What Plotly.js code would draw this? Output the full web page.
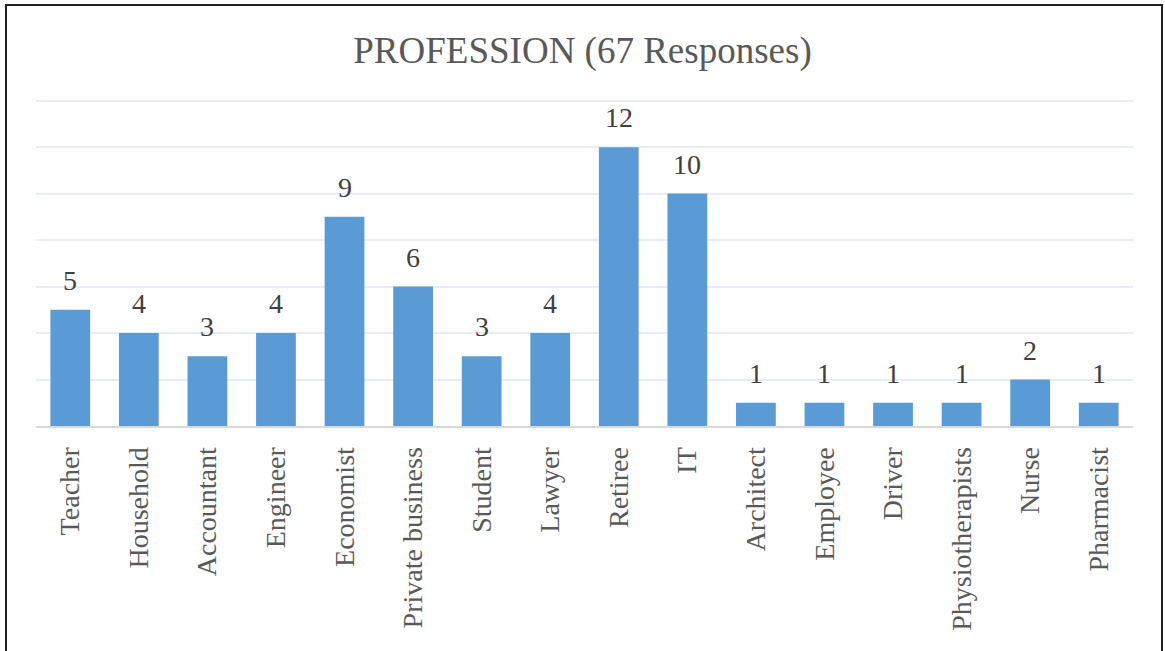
<!DOCTYPE html>
<html>
<head>
<meta charset="utf-8">
<script src="https://cdn.plot.ly/plotly-3.0.1.min.js"></script>
<style>
  html, body { margin: 0; padding: 0; background: #fff; }
  #chart { width: 1165px; height: 651px; }
  #frame {
    position: absolute; left: 5px; top: 4px; width: 1154px; height: 660px;
    border-left: 2px solid #222; border-top: 2px solid #222; border-right: 2px solid #222;
    pointer-events: none;
  }
</style>
</head>
<body>
<div id="chart"></div>
<div id="frame"></div>
<script>
// Number of respondents by profession
const professions = [
  "Teacher", "Household", "Accountant", "Engineer", "Economist",
  "Private business", "Student", "Lawyer", "Retiree", "IT",
  "Architect", "Employee", "Driver", "Physiotherapists", "Nurse", "Pharmacist"
];
const counts = [5, 4, 3, 4, 9, 6, 3, 4, 12, 10, 1, 1, 1, 1, 2, 1];
const yTicks = [0, 2, 4, 6, 8, 10, 12, 14];

const serif = "Liberation Serif";

const trace = {
  type: "bar",
  x: professions,
  y: counts,
  marker: { color: "#5B9BD5", line: { width: 0 } },
  hoverinfo: "x+y"
};

// Value labels above each bar
const labels = professions.map((p, i) => ({
  x: p, y: counts[i], text: String(counts[i]),
  xref: "x", yref: "y", showarrow: false,
  yanchor: "bottom", yshift: 12,
  font: { family: serif, size: 28, color: "#404040" }
}));

const layout = {
  width: 1165, height: 651,
  margin: { l: 36, r: 32, t: 96, b: 225 },
  paper_bgcolor: "#ffffff",
  plot_bgcolor: "#ffffff",
  bargap: 0.42,
  showlegend: false,
  font: { family: serif },
  title: {
    text: "PROFESSION (67 Responses)",
    x: 0.5, xanchor: "center", y: 0.923, yanchor: "middle",
    font: { family: serif, size: 37, color: "#595959" }
  },
  xaxis: {
    type: "category",
    tickangle: -90,
    tickfont: { family: serif, size: 28, color: "#595959" },
    showline: true, linecolor: "#D9D9D9", linewidth: 2,
    ticks: "", ticklabelstandoff: 8,
    showgrid: false, zeroline: false
  },
  yaxis: {
    range: [0, 14.2],
    tickvals: yTicks,
    showticklabels: false,
    showgrid: true, gridcolor: "#E8ECF8", gridwidth: 2,
    zeroline: false, showline: false, ticks: ""
  },
  annotations: labels
};

Plotly.newPlot("chart", [trace], layout, { displayModeBar: false, staticPlot: true });
</script>
</body>
</html>
